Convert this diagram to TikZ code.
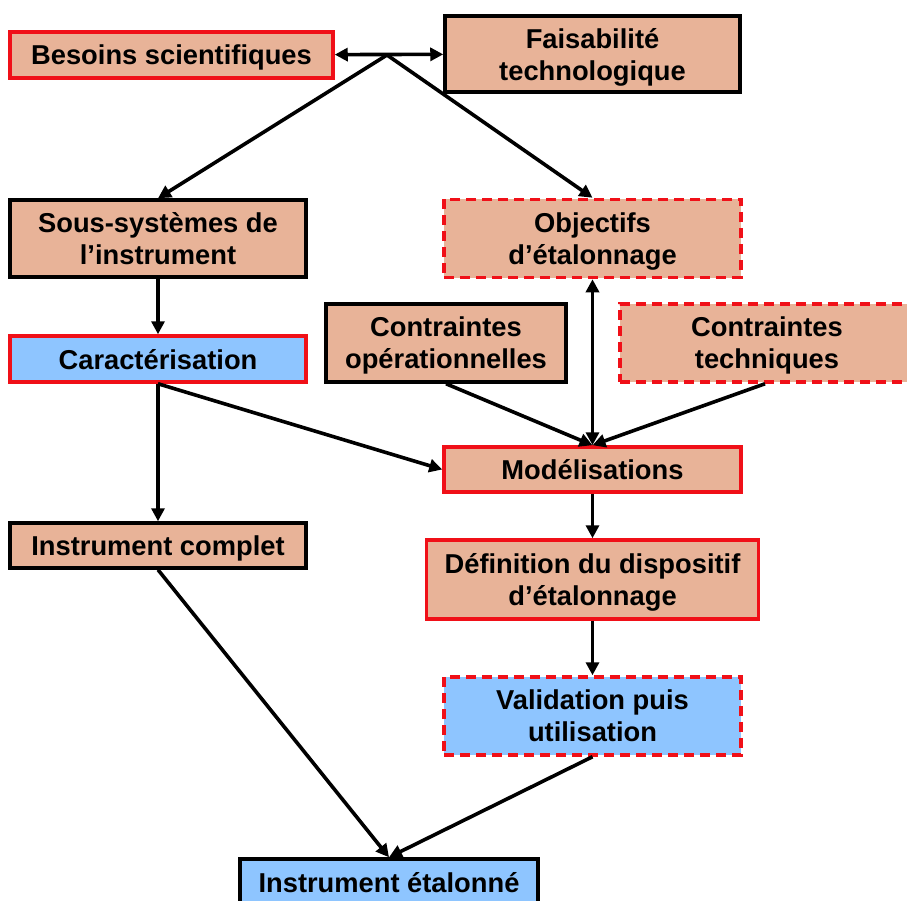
\documentclass[tikz,border=0pt]{standalone}
\usepackage{fontspec}
\setmainfont{Liberation Sans}
\usetikzlibrary{arrows.meta}
\definecolor{salmon}{RGB}{232,179,152}
\definecolor{skyb}{RGB}{142,197,255}
\definecolor{bred}{RGB}{240,16,24}
\tikzset{
  box/.style={draw=black, line width=3.5pt, fill=salmon, inner sep=0pt, align=center,
    font=\fontsize{27.3}{32}\selectfont\bfseries, text=black, text depth=0pt},
  redbox/.style={box, draw=bred},
  dashbox/.style={box, draw=bred, dash pattern=on 10pt off 6pt},
  bluef/.style={fill=skyb},
  conn/.style={line width=3.6pt, draw=black, -{Triangle[length=13pt,width=13pt]}},
  dconn/.style={conn, {Triangle[length=13pt,width=13pt]}-{Triangle[length=13pt,width=13pt]}}
}
\begin{document}
\begin{tikzpicture}[x=1pt,y=-1pt]
\useasboundingbox (0,0) rectangle (907,901);
\node[redbox, minimum width=323pt, minimum height=46pt] (bes) at (171.5,55) {Besoins scientifiques};
\node[box, minimum width=295pt, minimum height=76pt] (fai) at (592.5,54) {Faisabilité\\technologique};
\node[box, minimum width=296pt, minimum height=77pt] (sous) at (158,238.5) {Sous-systèmes de\\l’instrument};
\node[dashbox, minimum width=297pt, minimum height=78pt] (obj) at (592.5,238.5) {Objectifs\\d’étalonnage};
\node[box, minimum width=240pt, minimum height=78pt] (cop) at (446,343) {Contraintes\\opérationnelles};
\node[dashbox, minimum width=294pt, minimum height=78pt] (cte) at (767,343) {Contraintes\\techniques};
\node[redbox, bluef, minimum width=296pt, minimum height=46pt] (car) at (158,359) {Caractérisation};
\node[redbox, minimum width=297pt, minimum height=45pt] (mod) at (592.5,469.5) {Modélisations};
\node[box, minimum width=296pt, minimum height=45pt] (ic) at (158,545.5) {Instrument complet};
\node[redbox, minimum width=332pt, minimum height=79pt] (def) at (592.5,579.5) {Définition du dispositif\\d’étalonnage};
\node[dashbox, bluef, minimum width=297pt, minimum height=78pt] (val) at (592.5,716) {Validation puis\\utilisation};
\node[box, bluef, minimum width=298pt, minimum height=46pt] (ie) at (389,882) {Instrument étalonné};
\coordinate (j) at (387,55);
\draw[dconn] (bes) -- (fai);
\draw[conn] (j) -- (sous.north);
\draw[conn] (j) -- (obj.north);
\draw[conn] (sous) -- (car);
\draw[conn] (car.south) -- (ic.north);
\draw[conn] (car.south) -- (mod.west);
\draw[dconn] (obj.south) -- (mod.north);
\draw[conn] (cop.south) -- (mod.north);
\draw[conn] ([xshift=-2pt]cte.south) -- (mod.north);
\draw[conn] (mod) -- (def);
\draw[conn] (def) -- (val);
\draw[conn] (ic.south) -- (ie.north);
\draw[conn] (val.south) -- (ie.north);
\end{tikzpicture}
\end{document}
